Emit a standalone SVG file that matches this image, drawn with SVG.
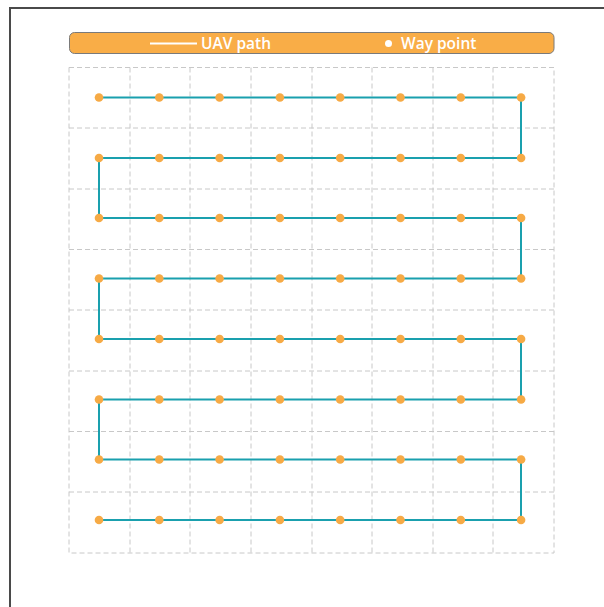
<svg xmlns="http://www.w3.org/2000/svg" width="604" height="607" viewBox="0 0 604 607">
<style>
.grid{stroke:#c8c8c8;stroke-width:1;stroke-dasharray:5 3;fill:none}
.wp{fill:#F6AA45}
.path{stroke:#1AA0AE;stroke-width:2;fill:none}
.lg{font-family:"Open Sans","Liberation Sans",sans-serif;font-size:15.5px;font-weight:600;fill:#ffffff}
</style>
<rect width="604" height="607" fill="#ffffff"/>
<path d="M10 607 V8 H604" stroke="#4a4a4a" stroke-width="2" fill="none"/>
<g id="legend">
<rect x="69.5" y="32.5" width="484.5" height="21" rx="5" fill="#F9AD47" stroke="#7a7a7a" stroke-width="1"/>
<line x1="150" y1="43.5" x2="197" y2="43.5" stroke="#ffffff" stroke-width="2"/>
<text class="lg" x="201" y="49">UAV path</text>
<circle cx="388.5" cy="43.5" r="3.5" fill="#ffffff"/>
<text class="lg" x="401" y="49">Way point</text>
</g>
<g id="grid" class="grid">
<rect x="69" y="67.5" width="485" height="485.5"/>
<path d="M130 67.5V553M190 67.5V553M251 67.5V553M312 67.5V553M372 67.5V553M433 67.5V553M493 67.5V553"/>
<path d="M69 128H554M69 189H554M69 249.5H554M69 310H554M69 371H554M69 431.5H554M69 492H554"/>
</g>
<g id="connectors">
<path class="path" d="M99 97.5H521V158H99V218H521V278.5H99V339H521V399.5H99V459.5H521V520H99"/>
</g>
<g id="waypoints" class="wp">
<g id="row1"><circle cx="99" cy="97.5" r="4.3"/><circle cx="159.3" cy="97.5" r="4.3"/><circle cx="219.6" cy="97.5" r="4.3"/><circle cx="279.9" cy="97.5" r="4.3"/><circle cx="340.2" cy="97.5" r="4.3"/><circle cx="400.5" cy="97.5" r="4.3"/><circle cx="460.8" cy="97.5" r="4.3"/><circle cx="521.1" cy="97.5" r="4.3"/></g>
<g id="row2"><circle cx="99" cy="158" r="4.3"/><circle cx="159.3" cy="158" r="4.3"/><circle cx="219.6" cy="158" r="4.3"/><circle cx="279.9" cy="158" r="4.3"/><circle cx="340.2" cy="158" r="4.3"/><circle cx="400.5" cy="158" r="4.3"/><circle cx="460.8" cy="158" r="4.3"/><circle cx="521.1" cy="158" r="4.3"/></g>
<g id="row3"><circle cx="99" cy="218" r="4.3"/><circle cx="159.3" cy="218" r="4.3"/><circle cx="219.6" cy="218" r="4.3"/><circle cx="279.9" cy="218" r="4.3"/><circle cx="340.2" cy="218" r="4.3"/><circle cx="400.5" cy="218" r="4.3"/><circle cx="460.8" cy="218" r="4.3"/><circle cx="521.1" cy="218" r="4.3"/></g>
<g id="row4"><circle cx="99" cy="278.5" r="4.3"/><circle cx="159.3" cy="278.5" r="4.3"/><circle cx="219.6" cy="278.5" r="4.3"/><circle cx="279.9" cy="278.5" r="4.3"/><circle cx="340.2" cy="278.5" r="4.3"/><circle cx="400.5" cy="278.5" r="4.3"/><circle cx="460.8" cy="278.5" r="4.3"/><circle cx="521.1" cy="278.5" r="4.3"/></g>
<g id="row5"><circle cx="99" cy="339" r="4.3"/><circle cx="159.3" cy="339" r="4.3"/><circle cx="219.6" cy="339" r="4.3"/><circle cx="279.9" cy="339" r="4.3"/><circle cx="340.2" cy="339" r="4.3"/><circle cx="400.5" cy="339" r="4.3"/><circle cx="460.8" cy="339" r="4.3"/><circle cx="521.1" cy="339" r="4.3"/></g>
<g id="row6"><circle cx="99" cy="399.5" r="4.3"/><circle cx="159.3" cy="399.5" r="4.3"/><circle cx="219.6" cy="399.5" r="4.3"/><circle cx="279.9" cy="399.5" r="4.3"/><circle cx="340.2" cy="399.5" r="4.3"/><circle cx="400.5" cy="399.5" r="4.3"/><circle cx="460.8" cy="399.5" r="4.3"/><circle cx="521.1" cy="399.5" r="4.3"/></g>
<g id="row7"><circle cx="99" cy="459.5" r="4.3"/><circle cx="159.3" cy="459.5" r="4.3"/><circle cx="219.6" cy="459.5" r="4.3"/><circle cx="279.9" cy="459.5" r="4.3"/><circle cx="340.2" cy="459.5" r="4.3"/><circle cx="400.5" cy="459.5" r="4.3"/><circle cx="460.8" cy="459.5" r="4.3"/><circle cx="521.1" cy="459.5" r="4.3"/></g>
<g id="row8"><circle cx="99" cy="520" r="4.3"/><circle cx="159.3" cy="520" r="4.3"/><circle cx="219.6" cy="520" r="4.3"/><circle cx="279.9" cy="520" r="4.3"/><circle cx="340.2" cy="520" r="4.3"/><circle cx="400.5" cy="520" r="4.3"/><circle cx="460.8" cy="520" r="4.3"/><circle cx="521.1" cy="520" r="4.3"/></g>
</g>
</svg>
